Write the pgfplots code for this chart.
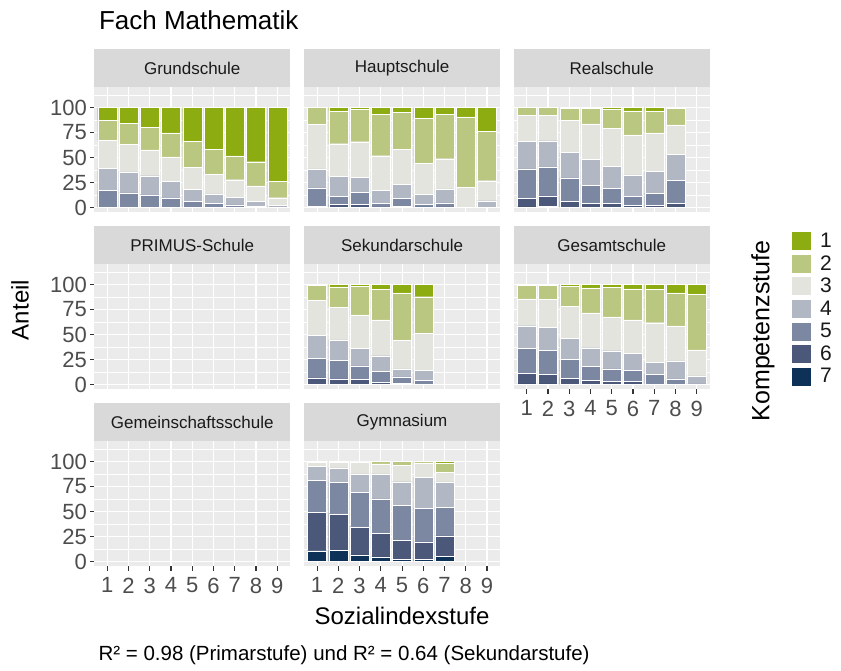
\documentclass[border=0pt]{standalone}
\usepackage{pgfplots}
\pgfplotsset{compat=1.18}
\usepackage{pgfplotstable}
\usepackage{fontspec}
\setmainfont{Liberation Sans}
\definecolor{c1}{HTML}{8DAC12}
\definecolor{c2}{HTML}{BAC780}
\definecolor{c3}{HTML}{E3E4DD}
\definecolor{c4}{HTML}{B2B7C4}
\definecolor{c5}{HTML}{7C87A2}
\definecolor{c6}{HTML}{4B5879}
\definecolor{c7}{HTML}{0E3158}
\definecolor{panelbg}{HTML}{EBEBEB}
\definecolor{stripbg}{HTML}{D9D9D9}
\definecolor{stripc}{HTML}{1A1A1A}
\definecolor{labc}{HTML}{4D4D4D}
\definecolor{tickc}{HTML}{333333}

\pgfplotstableread{
x l1 l2 l3 l4 l5 l6 l7
1 12.9 20.0 27.8 22.4 16.9 0 0
2 15.6 21.0 27.8 21.0 14.6 0 0
3 19.7 22.7 25.8 19.0 12.8 0 0
4 25.4 24.1 24.4 16.3 9.8 0 0
5 33.9 25.8 22.4 11.5 6.4 0 0
6 42.0 25.1 19.3 9.5 4.1 0 0
7 48.5 23.7 17.6 7.5 2.7 0 0
8 54.2 24.1 15.3 5.1 1.3 0 0
9 73.9 16.3 7.5 1.6 0.7 0 0
}\grund

\pgfplotstableread{
x l1 l2 l3 l4 l5 l6 l7
1 0 17.0 44.4 19.0 18.6 1.0 0
2 3.7 32.5 32.9 20.0 7.8 3.1 0
3 1.7 32.5 35.6 15.3 11.9 3.0 0
4 6.8 41.4 34.6 13.2 3.4 0.6 0
5 5.1 37.0 34.9 13.9 8.1 1.0 0
6 10.8 45.1 30.8 10.2 2.4 0.7 0
7 7.1 44.1 30.2 13.9 4.1 0.6 0
8 9.5 70.2 20.3 0 0 0 0
9 23.7 49.5 20.0 6.8 0 0 0
}\haupt

\pgfplotstableread{
x l1 l2 l3 l4 l5 l6 l7
1 0 7.8 26.1 27.5 29.2 8.7 0.7
2 0 7.8 25.4 26.1 29.2 10.5 1.0
3 1.0 11.9 32.2 25.4 23.4 6.1 0
4 1.0 15.3 35.6 25.8 18.0 4.0 0.3
5 2.0 18.6 38.0 22.0 15.3 3.7 0.4
6 3.4 24.1 40.0 20.7 9.8 1.7 0.3
7 3.7 21.7 38.6 21.7 12.2 1.7 0.4
8 1.0 16.3 29.5 26.1 22.7 4.4 0
}\real

\pgfplotstableread{
x l1 l2 l3 l4 l5 l6 l7
1 0.7 15.2 34.8 23.0 19.6 6.7 0
2 2.4 20.3 32.8 20.6 18.2 5.7 0
3 2.0 28.4 33.4 17.6 13.5 5.1 0
4 4.7 30.7 35.8 15.9 10.5 2.4 0
5 8.4 47.3 28.7 7.8 6.8 1.0 0
6 12.2 36.5 37.2 9.8 4.3 0 0
}\sek

\pgfplotstableread{
x l1 l2 l3 l4 l5 l6 l7
1 1.0 13.5 26.7 22.6 25.3 10.2 0.7
2 1.0 13.9 28.0 23.0 24.0 9.4 0.7
3 2.0 19.9 32.1 21.0 18.6 6.1 0.3
4 3.4 25.0 34.8 18.9 13.9 3.7 0.3
5 3.0 29.4 33.8 18.2 12.2 3.1 0.3
6 4.4 31.1 33.4 16.9 11.1 2.8 0.3
7 5.1 33.1 39.9 11.5 10.1 0.3 0
8 8.4 33.1 34.8 18.2 5.1 0.4 0
9 10.1 55.4 26.0 7.8 0.7 0 0
}\gesamt

\pgfplotstableread{
x l1 l2 l3 l4 l5 l6 l7
1 0 1.0 4.0 14.1 31.6 38.5 10.8
2 0 0.7 5.7 14.5 31.3 36.7 11.1
3 0 0.3 12.1 18.5 34.3 28.3 6.5
4 0 2.4 10.1 24.9 34.7 23.2 4.7
5 0 3.7 16.5 23.9 34.7 18.9 2.3
6 0 1.3 14.8 30.6 33.7 17.6 2.0
7 1.3 9.8 9.4 25.6 28.3 20.2 5.4
}\gym

\newcommand{\stackbars}[1]{%
  \addplot[fill=c7,draw=white,line width=0.3pt] table[x=x,y=l7]{#1};
  \addplot[fill=c6,draw=white,line width=0.3pt] table[x=x,y=l6]{#1};
  \addplot[fill=c5,draw=white,line width=0.3pt] table[x=x,y=l5]{#1};
  \addplot[fill=c4,draw=white,line width=0.3pt] table[x=x,y=l4]{#1};
  \addplot[fill=c3,draw=white,line width=0.3pt] table[x=x,y=l3]{#1};
  \addplot[fill=c2,draw=white,line width=0.3pt] table[x=x,y=l2]{#1};
  \addplot[fill=c1,draw=white,line width=0.3pt] table[x=x,y=l1]{#1};
}

\pgfplotsset{
  facet/.style={
    scale only axis, width=195.5pt, height=125pt,
    xmin=0.4, xmax=9.6, ymin=-5, ymax=120,
    axis background/.style={fill=panelbg},
    axis line style={draw=none},
    xtick={1,2,3,4,5,6,7,8,9}, ytick={0,25,50,75,100},
    minor ytick={12.5,37.5,62.5,87.5,112.5},
    grid=both,
    major grid style={draw=white, line width=1.1pt},
    minor grid style={draw=white, line width=0.55pt},
    tick align=outside, tick pos=left,
    major tick length=4.5pt, minor tick length=0pt,
    xticklabels={}, yticklabels={},
    xtick style={draw=none}, ytick style={draw=none},
    ybar stacked, bar width=0.9,
    every axis title/.style={at={(0.5,1)}, anchor=south, fill=stripbg,
      minimum width=195.5pt, minimum height=38pt, inner sep=0pt,
      text=stripc, font=\fontsize{17}{17}\selectfont},
    tick label style={font=\fontsize{22}{22}\selectfont, text=labc, inner sep=0pt},
    yticklabel style={xshift=-3pt},
    xticklabel style={yshift=-6.5pt},
    /pgf/number format/assume math mode=true,
  },
  xlab/.style={xtick style={draw=tickc, line width=1.1pt}, xticklabels={1,2,3,4,5,6,7,8,9}},
  ylab/.style={ytick style={draw=tickc, line width=1.1pt}, yticklabels={0,25,50,75,100}},
}

\begin{document}
\begin{tikzpicture}[x=1pt,y=1pt]
\useasboundingbox (0,0) rectangle (841,671);

% Row 1
\begin{axis}[facet, ylab, at={(94.5pt,458.5pt)}, anchor=south west, title={Grundschule}]
\stackbars{\grund}
\end{axis}
\begin{axis}[facet, at={(304.3pt,458.5pt)}, anchor=south west, title={Hauptschule}]
\stackbars{\haupt}
\end{axis}
\begin{axis}[facet, at={(514pt,458.5pt)}, anchor=south west, title={Realschule}]
\stackbars{\real}
\end{axis}

% Row 2
\begin{axis}[facet, ylab, at={(94.5pt,281.5pt)}, anchor=south west, title={PRIMUS-Schule}]
\end{axis}
\begin{axis}[facet, at={(304.3pt,281.5pt)}, anchor=south west, title={Sekundarschule}]
\stackbars{\sek}
\end{axis}
\begin{axis}[facet, xlab, at={(514pt,281.5pt)}, anchor=south west, title={Gesamtschule},
  legend style={at={(1.4169,1.268)}, anchor=north west, draw=none, fill=none,
    inner sep=0pt, row sep=3.3pt, column sep=9pt,
    nodes={inner sep=0pt, text=black!90, font=\fontsize{21}{21}\selectfont}},
  legend cell align=left, reverse legend,
  legend image code/.code={\fill[#1] (0pt,-9.5pt) rectangle (19.7pt,9.5pt);}]
\stackbars{\gesamt}
\legend{7,6,5,4,3,2,1}
\end{axis}

% Row 3
\begin{axis}[facet, ylab, xlab, at={(94.5pt,104.5pt)}, anchor=south west, title={Gemeinschaftsschule}]
\end{axis}
\begin{axis}[facet, xlab, at={(304.3pt,104.5pt)}, anchor=south west, title={Gymnasium}]
\stackbars{\gym}
\end{axis}

% Texts
\node[anchor=base west, font=\fontsize{26}{26}\selectfont, text=black] at (95.5,641.5) {Fach Mathematik};
\node[rotate=90, font=\fontsize{24}{24}\selectfont, text=black] at (20,361) {Anteil};
\node[anchor=base, font=\fontsize{24}{24}\selectfont, text=black] at (402,46) {Sozialindexstufe};
\node[anchor=base west, font=\fontsize{20.5}{20.5}\selectfont, text=black] at (95,10.5) {R² = 0.98 (Primarstufe) und R² = 0.64 (Sekundarstufe)};
\node[rotate=90, font=\fontsize{25}{25}\selectfont, text=black] at (763,340) {Kompetenzstufe};
\end{tikzpicture}
\end{document}
